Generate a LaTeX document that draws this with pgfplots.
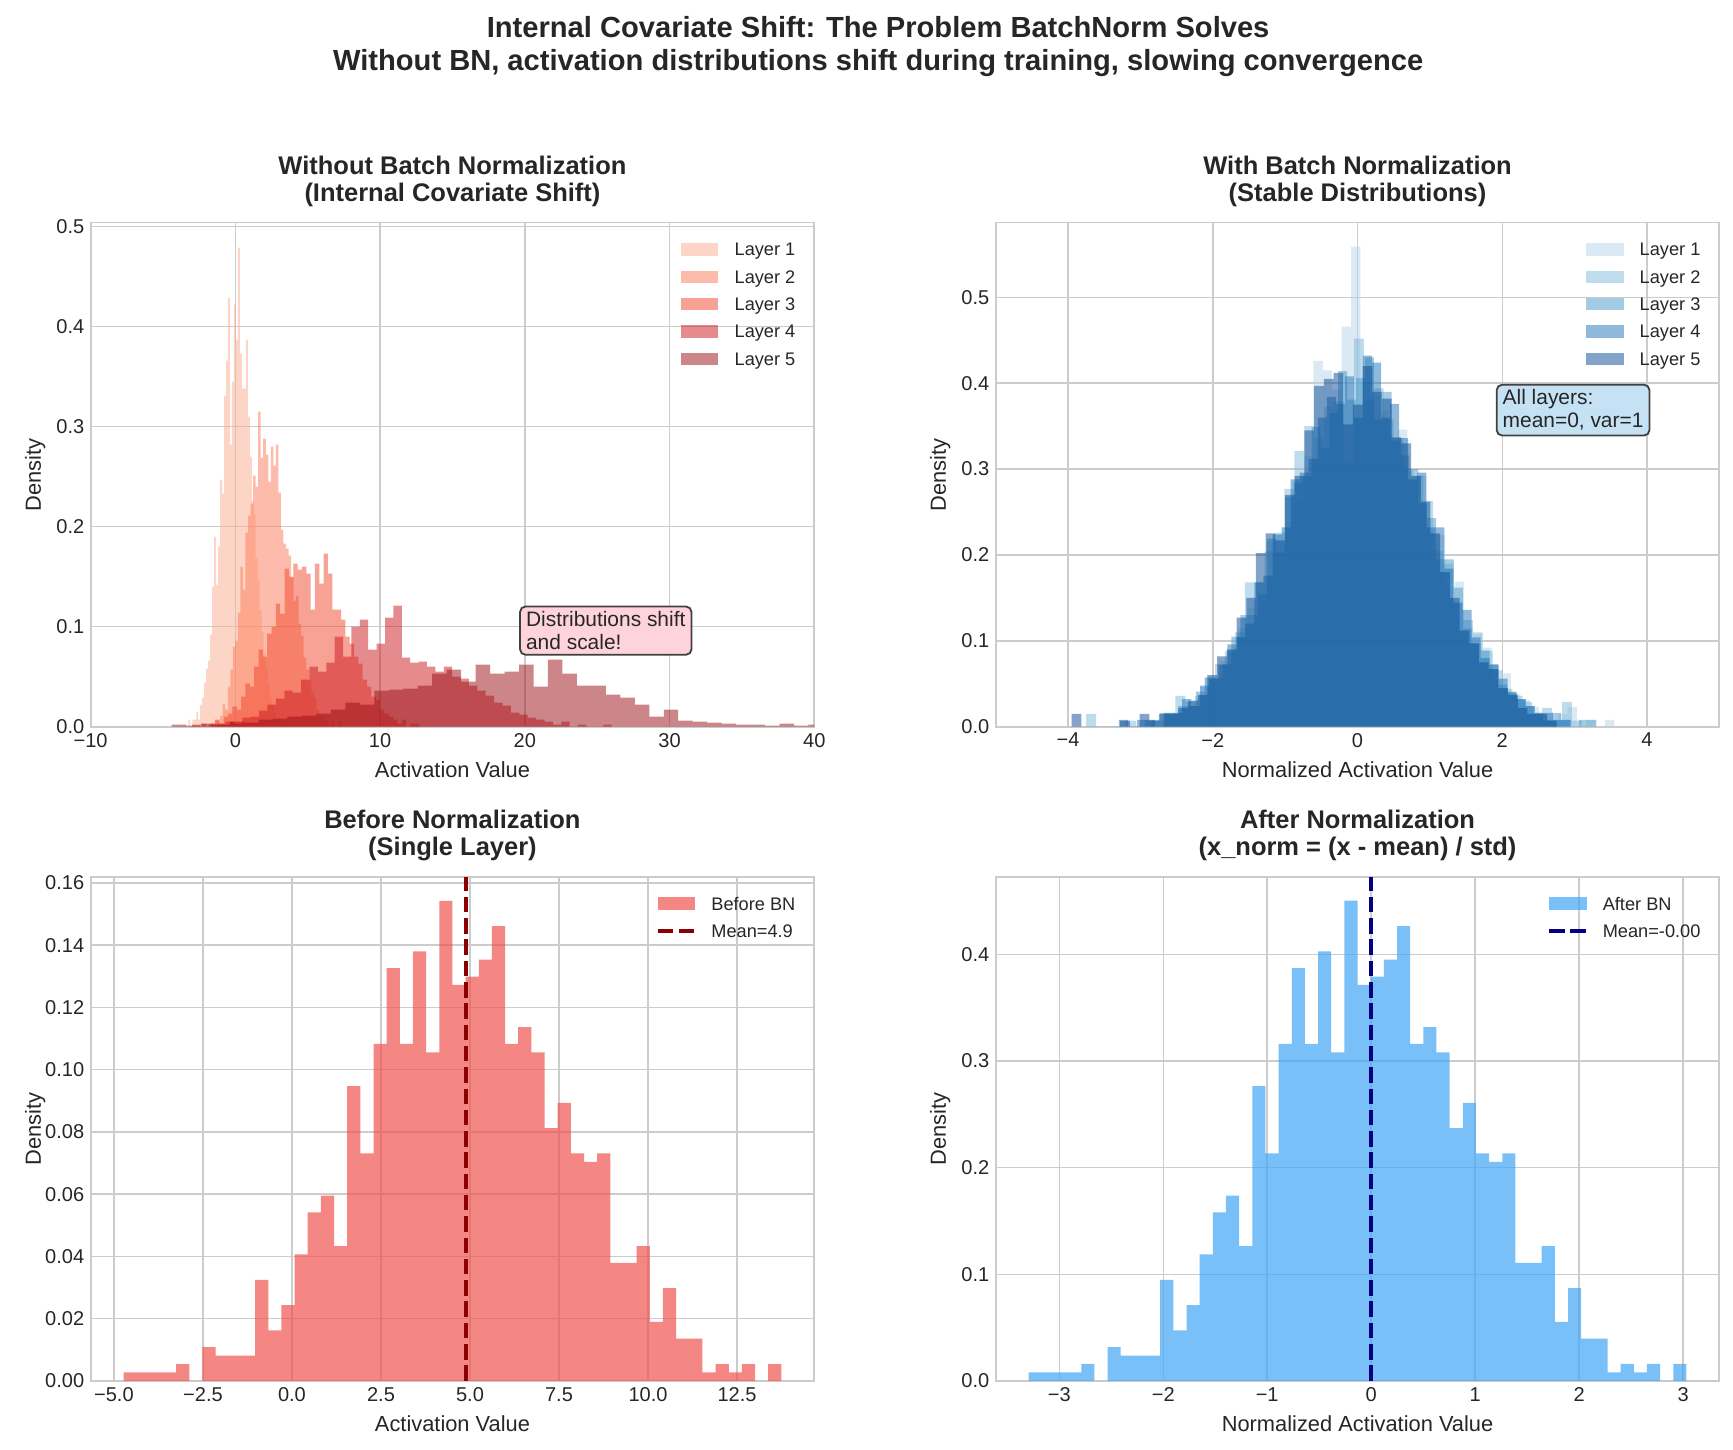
\documentclass[border=0pt]{standalone}
\usepackage{fontspec}
\setmainfont{Liberation Sans}
\usepackage{pgfplots}
\pgfplotsset{compat=1.18}
\definecolor{txt}{HTML}{262626}
\definecolor{gridc}{HTML}{CCCCCC}
\definecolor{r1}{HTML}{FCAB8E}
\definecolor{r2}{HTML}{FB7A57}
\definecolor{r3}{HTML}{F1442C}
\definecolor{r4}{HTML}{CB181D}
\definecolor{r5}{HTML}{990C13}
\definecolor{b1}{HTML}{B6D4E9}
\definecolor{b2}{HTML}{7FB9DA}
\definecolor{b3}{HTML}{4A98C9}
\definecolor{b4}{HTML}{2171B5}
\definecolor{b5}{HTML}{084A92}
\definecolor{beforec}{HTML}{EF5350}
\definecolor{afterc}{HTML}{42A5F5}
\definecolor{meanred}{HTML}{8B0000}
\definecolor{meanblue}{HTML}{000080}
\definecolor{pinkbox}{HTML}{FFD3DB}
\definecolor{bluebox}{HTML}{C5E2F5}
\definecolor{boxedge}{HTML}{404040}
\pgfplotsset{
  myaxis/.style={
    scale only axis, width=397.6pt, height=277pt, anchor=south west,
    axis line style={gridc, line width=1pt},
    grid=major, major grid style={gridc, line width=0.8pt},
    major tick length=0pt, minor tick length=0pt,
    tick style={draw=none},
    ticklabel style={font=\fontsize{11}{13}\selectfont, text=txt},
    /pgf/number format/assume math mode=true,
    label style={font=\fontsize{12}{14}\selectfont, text=txt},
    title style={font=\bfseries\fontsize{14}{15}\selectfont, text=txt, align=center, yshift=-1pt},
    legend style={draw=none, fill=none, font=\fontsize{10}{12}\selectfont, text=txt,
      at={(1,1)}, anchor=north east, xshift=-9.7pt, yshift=-10.1pt, row sep=4pt, inner sep=0pt,
      nodes={inner sep=0.5pt, text height=7.5pt, text depth=2.5pt}},
    legend cell align=left,
    x label style={at={(axis description cs:0.5,-0.0859)}, anchor=center},
    y label style={at={(axis description cs:-0.0767,0.5)}, anchor=center},
  },
  hist/.style={const plot mark left, draw=none, fill=#1, fill opacity=0.5, mark=none,
    legend image code/.code={\fill[##1, draw=none] (0pt,-2.4pt) rectangle (20.6pt,4.4pt); \path[draw=none, fill=none] (0pt,0pt) -- (29pt,0pt);}},
  single/.style={const plot mark left, draw=none, fill=#1, fill opacity=0.7, mark=none,
    legend image code/.code={\fill[##1, draw=none] (0pt,-2.4pt) rectangle (20.6pt,4.4pt); \path[draw=none, fill=none] (0pt,0pt) -- (29pt,0pt);}},
  meanline/.style={#1, line width=2pt, dash pattern=on 8.5pt off 3.2pt, mark=none,
    legend image code/.code={\draw[##1] (0pt,1pt) -- (20.6pt,1pt); \path[draw=none, fill=none] (0pt,0pt) -- (29pt,0pt);}},
}
\begin{document}
\begin{tikzpicture}
\useasboundingbox (0pt,0pt) rectangle (952.2pt,796.2pt);
\node[anchor=base, font=\bfseries\fontsize{16}{19}\selectfont, text=txt] at (482.5pt,775.8pt) {Internal Covariate Shift: The Problem BatchNorm Solves};
\node[anchor=base, font=\bfseries\fontsize{16}{19}\selectfont, text=txt] at (482.5pt,757.4pt) {Without BN, activation distributions shift during training, slowing convergence};

% ---------------- Top left ----------------
\begin{axis}[myaxis, at={(49.8pt,396.9pt)},
  xmin=-10, xmax=40, ymin=0, ymax=0.504,
  xtick={-10,0,10,20,30,40}, xticklabels={−10,0,10,20,30,40},
  ytick={0,0.1,0.2,0.3,0.4,0.5}, yticklabels={0.0,0.1,0.2,0.3,0.4,0.5},
  title={Without Batch Normalization\\(Internal Covariate Shift)},
  xlabel={Activation Value}, ylabel={Density}]
\addplot[hist=r1] coordinates {(-3.250,0.007) (-3.113,0) (-2.976,0.007) (-2.839,0.007) (-2.702,0.015) (-2.565,0.007) (-2.428,0.022) (-2.291,0.029) (-2.154,0.044) (-2.017,0.058) (-1.880,0.066) (-1.743,0.092) (-1.606,0.140) (-1.469,0.190) (-1.332,0.142) (-1.195,0.180) (-1.058,0.247) (-0.921,0.233) (-0.784,0.331) (-0.647,0.366) (-0.510,0.429) (-0.373,0.282) (-0.236,0.345) (-0.099,0.422) (0.038,0.387) (0.175,0.479) (0.312,0.373) (0.449,0.338) (0.586,0.338) (0.723,0.387) (0.860,0.310) (0.997,0.270) (1.134,0.226) (1.271,0.212) (1.408,0.168) (1.545,0.146) (1.682,0.117) (1.819,0.095) (1.956,0.073) (2.093,0.058) (2.230,0.044) (2.367,0.029) (2.504,0.022) (2.641,0.015) (2.778,0.007) (2.915,0.007) (3.052,0) (3.189,0.007) (3.326,0) (3.463,0.007) (3.600,0.007)} \closedcycle;
\addlegendentry{Layer 1}
\addplot[hist=r2] coordinates {(-1.400,0.006) (-1.225,0.006) (-1.050,0.011) (-0.875,0.023) (-0.700,0.017) (-0.525,0.040) (-0.350,0.057) (-0.175,0.080) (0.000,0.086) (0.175,0.114) (0.350,0.160) (0.525,0.137) (0.700,0.194) (0.875,0.211) (1.050,0.223) (1.225,0.251) (1.400,0.240) (1.575,0.315) (1.750,0.269) (1.925,0.288) (2.100,0.272) (2.275,0.245) (2.450,0.280) (2.625,0.261) (2.800,0.282) (2.975,0.234) (3.150,0.197) (3.325,0.183) (3.500,0.178) (3.675,0.171) (3.850,0.149) (4.025,0.126) (4.200,0.131) (4.375,0.103) (4.550,0.091) (4.725,0.069) (4.900,0.057) (5.075,0.046) (5.250,0.034) (5.425,0.029) (5.600,0.017) (5.775,0.011) (5.950,0.011) (6.125,0.006) (6.300,0.006) (6.475,0) (6.650,0.006) (6.825,0) (7.000,0) (7.175,0.006) (7.350,0.006)} \closedcycle;
\addlegendentry{Layer 2}
\addplot[hist=r3] coordinates {(-2.3,0.003) (-2.0,0) (-1.7,0.003) (-1.4,0.007) (-1.1,0.003) (-0.8,0.010) (-0.5,0.013) (-0.2,0.020) (0.1,0.017) (0.4,0.030) (0.7,0.043) (1.0,0.040) (1.3,0.060) (1.6,0.077) (1.9,0.070) (2.2,0.093) (2.5,0.100) (2.8,0.123) (3.1,0.113) (3.4,0.158) (3.7,0.150) (4.0,0.163) (4.3,0.157) (4.6,0.160) (4.9,0.153) (5.2,0.117) (5.5,0.163) (5.8,0.143) (6.1,0.173) (6.4,0.153) (6.7,0.117) (7.0,0.117) (7.3,0.107) (7.6,0.090) (7.9,0.083) (8.2,0.070) (8.5,0.063) (8.8,0.047) (9.1,0.040) (9.4,0.030) (9.7,0.027) (10.0,0.017) (10.3,0.013) (10.6,0.010) (10.9,0.007) (11.2,0.003) (11.5,0.007) (11.8,0) (12.1,0.003) (12.4,0.003) (12.7,0.003)} \closedcycle;
\addlegendentry{Layer 3}
\addplot[hist=r4] coordinates {(-3.00,0.002) (-2.42,0) (-1.84,0.002) (-1.26,0.003) (-0.68,0.005) (-0.10,0.003) (0.48,0.009) (1.06,0.010) (1.64,0.016) (2.22,0.022) (2.80,0.028) (3.38,0.036) (3.96,0.034) (4.54,0.047) (5.12,0.060) (5.70,0.055) (6.28,0.064) (6.86,0.090) (7.44,0.070) (8.02,0.100) (8.60,0.107) (9.18,0.077) (9.76,0.083) (10.34,0.109) (10.92,0.121) (11.50,0.069) (12.08,0.064) (12.66,0.065) (13.24,0.060) (13.82,0.055) (14.40,0.060) (14.98,0.050) (15.56,0.048) (16.14,0.041) (16.72,0.036) (17.30,0.031) (17.88,0.024) (18.46,0.021) (19.04,0.014) (19.62,0.012) (20.20,0.009) (20.78,0.007) (21.36,0.005) (21.94,0.002) (22.52,0.005) (23.10,0) (23.68,0.002) (24.26,0) (24.84,0) (25.42,0.002) (26.00,0.002)} \closedcycle;
\addlegendentry{Layer 4}
\addplot[hist=r5] coordinates {(-4.4,0.002) (-3.4,0.001) (-2.4,0.003) (-1.4,0.002) (-0.4,0.005) (0.6,0.004) (1.6,0.007) (2.6,0.008) (3.6,0.010) (4.6,0.011) (5.6,0.013) (6.6,0.017) (7.6,0.024) (8.6,0.022) (9.6,0.036) (10.6,0.037) (11.6,0.038) (12.6,0.041) (13.6,0.053) (14.6,0.057) (15.6,0.045) (16.6,0.062) (17.6,0.053) (18.6,0.055) (19.6,0.062) (20.6,0.040) (21.6,0.067) (22.6,0.053) (23.6,0.041) (24.6,0.041) (25.6,0.032) (26.6,0.029) (27.6,0.022) (28.6,0.010) (29.6,0.017) (30.6,0.006) (31.6,0.005) (32.6,0.004) (33.6,0.003) (34.6,0.002) (35.6,0.002) (36.6,0.001) (37.6,0.003) (38.6,0.001) (39.6,0.002) (40.6,0) (41.6,0.001) (42.6,0) (43.6,0) (44.6,0.001) (45.6,0.001)} \closedcycle;
\addlegendentry{Layer 5}
\node[anchor=south west, fill=pinkbox, draw=boxedge, line width=1pt, rounded corners=3pt, inner xsep=3.3pt, inner ysep=2.8pt, align=left, font=\fontsize{11.5}{12.5}\selectfont, text=txt] at (axis cs:19.61,0.071) {Distributions shift\\and scale!};
\end{axis}

% ---------------- Top right ----------------
\begin{axis}[myaxis, at={(547.1pt,396.9pt)},
  xmin=-5, xmax=5, ymin=0, ymax=0.587,
  xtick={-4,-2,0,2,4}, xticklabels={−4,−2,0,2,4},
  ytick={0,0.1,0.2,0.3,0.4,0.5}, yticklabels={0.0,0.1,0.2,0.3,0.4,0.5},
  title={With Batch Normalization\\(Stable Distributions)},
  xlabel={Normalized Activation Value}, ylabel={Density}]
\addplot[hist=b1] coordinates {(-2.95,0.008) (-2.82,0) (-2.69,0.015) (-2.56,0.015) (-2.43,0.023) (-2.30,0.031) (-2.17,0.046) (-2.04,0.054) (-1.91,0.077) (-1.78,0.085) (-1.65,0.115) (-1.52,0.138) (-1.39,0.146) (-1.26,0.215) (-1.13,0.223) (-1.00,0.238) (-0.87,0.262) (-0.74,0.315) (-0.61,0.426) (-0.48,0.415) (-0.35,0.392) (-0.22,0.466) (-0.09,0.559) (0.04,0.400) (0.17,0.385) (0.30,0.369) (0.43,0.331) (0.56,0.346) (0.69,0.285) (0.82,0.292) (0.95,0.231) (1.08,0.223) (1.21,0.162) (1.34,0.169) (1.47,0.115) (1.60,0.108) (1.73,0.092) (1.86,0.054) (1.99,0.062) (2.12,0.038) (2.25,0.031) (2.38,0.023) (2.51,0.015) (2.64,0.008) (2.77,0.015) (2.90,0.023) (3.03,0) (3.16,0.008) (3.29,0) (3.42,0.008) (3.55,0.008)} \closedcycle;
\addlegendentry{Layer 1}
\addplot[hist=b2] coordinates {(-3.750,0.015) (-3.613,0) (-3.476,0) (-3.339,0) (-3.202,0.007) (-3.065,0) (-2.928,0.007) (-2.791,0.007) (-2.654,0.015) (-2.517,0.036) (-2.380,0.029) (-2.243,0.036) (-2.106,0.058) (-1.969,0.073) (-1.832,0.088) (-1.695,0.110) (-1.558,0.168) (-1.421,0.168) (-1.284,0.204) (-1.147,0.226) (-1.010,0.277) (-0.873,0.321) (-0.736,0.350) (-0.599,0.336) (-0.462,0.372) (-0.325,0.379) (-0.188,0.307) (-0.051,0.452) (0.086,0.380) (0.223,0.394) (0.360,0.358) (0.497,0.336) (0.634,0.299) (0.771,0.292) (0.908,0.263) (1.045,0.205) (1.182,0.190) (1.319,0.146) (1.456,0.124) (1.593,0.110) (1.730,0.088) (1.867,0.066) (2.004,0.044) (2.141,0.036) (2.278,0.029) (2.415,0.015) (2.552,0.022) (2.689,0.007) (2.826,0.029) (2.963,0.007) (3.100,0.007)} \closedcycle;
\addlegendentry{Layer 2}
\addplot[hist=b3] coordinates {(-2.850,0.008) (-2.727,0.016) (-2.604,0.016) (-2.481,0.024) (-2.358,0.024) (-2.235,0.041) (-2.112,0.057) (-1.989,0.057) (-1.866,0.073) (-1.743,0.105) (-1.620,0.130) (-1.497,0.130) (-1.374,0.154) (-1.251,0.219) (-1.128,0.203) (-1.005,0.268) (-0.882,0.284) (-0.759,0.292) (-0.636,0.349) (-0.513,0.325) (-0.390,0.365) (-0.267,0.414) (-0.144,0.381) (-0.021,0.406) (0.102,0.430) (0.225,0.357) (0.348,0.390) (0.471,0.333) (0.594,0.316) (0.717,0.300) (0.840,0.260) (0.963,0.243) (1.086,0.195) (1.209,0.195) (1.332,0.162) (1.455,0.114) (1.578,0.097) (1.701,0.089) (1.824,0.073) (1.947,0.049) (2.070,0.041) (2.193,0.032) (2.316,0.024) (2.439,0.016) (2.562,0.008) (2.685,0.016) (2.808,0.008) (2.931,0) (3.054,0.008) (3.177,0.008) (3.300,0.008)} \closedcycle;
\addlegendentry{Layer 3}
\addplot[hist=b4] coordinates {(-3.300,0.008) (-3.175,0) (-3.050,0.008) (-2.925,0.008) (-2.800,0) (-2.675,0.016) (-2.550,0.016) (-2.425,0.032) (-2.300,0.024) (-2.175,0.048) (-2.050,0.056) (-1.925,0.072) (-1.800,0.096) (-1.675,0.104) (-1.550,0.120) (-1.425,0.168) (-1.300,0.176) (-1.175,0.224) (-1.050,0.232) (-0.925,0.288) (-0.800,0.296) (-0.675,0.312) (-0.550,0.360) (-0.425,0.384) (-0.300,0.376) (-0.175,0.408) (-0.050,0.360) (0.075,0.432) (0.200,0.424) (0.325,0.360) (0.450,0.376) (0.575,0.336) (0.700,0.288) (0.825,0.296) (0.950,0.232) (1.075,0.232) (1.200,0.184) (1.325,0.144) (1.450,0.136) (1.575,0.104) (1.700,0.080) (1.825,0.072) (1.950,0.056) (2.075,0.040) (2.200,0.032) (2.325,0.024) (2.450,0.016) (2.575,0.016) (2.700,0.008) (2.825,0.008) (2.950,0.008)} \closedcycle;
\addlegendentry{Layer 4}
\addplot[hist=b5] coordinates {(-3.950,0.015) (-3.816,0) (-3.682,0) (-3.548,0) (-3.414,0) (-3.280,0.007) (-3.146,0) (-3.012,0.015) (-2.878,0.007) (-2.744,0.015) (-2.610,0.015) (-2.476,0.022) (-2.342,0.030) (-2.208,0.037) (-2.074,0.060) (-1.940,0.082) (-1.806,0.090) (-1.672,0.127) (-1.538,0.150) (-1.404,0.202) (-1.270,0.225) (-1.136,0.217) (-1.002,0.270) (-0.868,0.292) (-0.734,0.345) (-0.600,0.397) (-0.466,0.405) (-0.332,0.412) (-0.198,0.352) (-0.064,0.375) (0.070,0.420) (0.204,0.390) (0.338,0.382) (0.472,0.337) (0.606,0.330) (0.740,0.292) (0.874,0.262) (1.008,0.225) (1.142,0.180) (1.276,0.150) (1.410,0.112) (1.544,0.097) (1.678,0.075) (1.812,0.067) (1.946,0.045) (2.080,0.037) (2.214,0.022) (2.348,0.015) (2.482,0.015) (2.616,0.007) (2.750,0.007)} \closedcycle;
\addlegendentry{Layer 5}
\node[anchor=south west, fill=bluebox, draw=boxedge, line width=1pt, rounded corners=3pt, inner xsep=3.3pt, inner ysep=2.8pt, align=left, font=\fontsize{11.5}{12.5}\selectfont, text=txt] at (axis cs:1.91,0.338) {All layers:\\mean=0, var=1};
\end{axis}

% ---------------- Bottom left ----------------
\begin{axis}[myaxis, at={(49.8pt,37.5pt)},
  xmin=-5.654, xmax=14.669, ymin=0, ymax=0.162,
  xtick={-5,-2.5,0,2.5,5,7.5,10,12.5}, xticklabels={−5.0,−2.5,0.0,2.5,5.0,7.5,10.0,12.5},
  ytick={0,0.02,0.04,0.06,0.08,0.10,0.12,0.14,0.16}, yticklabels={0.00,0.02,0.04,0.06,0.08,0.10,0.12,0.14,0.16},
  title={Before Normalization\\(Single Layer)},
  xlabel={Activation Value}, ylabel={Density}]
\addplot[single=beforec] coordinates {(-4.730,0.00271) (-4.3605,0.00271) (-3.991,0.00271) (-3.6215,0.00271) (-3.252,0.00541) (-2.8825,0) (-2.513,0.01083) (-2.1435,0.00812) (-1.774,0.00812) (-1.4045,0.00812) (-1.035,0.03248) (-0.6655,0.01624) (-0.296,0.02436) (0.0735,0.04060) (0.443,0.05413) (0.8125,0.05954) (1.182,0.04330) (1.5515,0.09472) (1.921,0.07307) (2.2905,0.10826) (2.660,0.13261) (3.0295,0.10826) (3.399,0.13803) (3.7685,0.10555) (4.138,0.15427) (4.5075,0.12720) (4.877,0.12991) (5.2465,0.13532) (5.616,0.14615) (5.9855,0.10826) (6.355,0.11367) (6.7245,0.10555) (7.094,0.08119) (7.4635,0.08931) (7.833,0.07307) (8.2025,0.07037) (8.572,0.07307) (8.9415,0.03789) (9.311,0.03789) (9.6805,0.04330) (10.050,0.01894) (10.4195,0.02977) (10.789,0.01353) (11.1585,0.01353) (11.528,0.00271) (11.8975,0.00541) (12.267,0.00271) (12.6365,0.00541) (13.006,0) (13.3755,0.00541) (13.745,0.00541)} \closedcycle;
\addlegendentry{Before BN}
\addplot[meanline=meanred] coordinates {(4.89,0) (4.89,0.162)};
\addlegendentry{Mean=4.9}
\end{axis}

% ---------------- Bottom right ----------------
\begin{axis}[myaxis, at={(547.1pt,37.5pt)},
  xmin=-3.611, xmax=3.349, ymin=0, ymax=0.473,
  xtick={-3,-2,-1,0,1,2,3}, xticklabels={−3,−2,−1,0,1,2,3},
  ytick={0,0.1,0.2,0.3,0.4}, yticklabels={0.0,0.1,0.2,0.3,0.4},
  title={After Normalization\\(x\_norm = (x - mean) / std)},
  xlabel={Normalized Activation Value}, ylabel={Density}]
\addplot[single=afterc] coordinates {(-3.2945,0.00790) (-3.1680,0.00790) (-3.0414,0.00790) (-2.9149,0.00790) (-2.7883,0.01581) (-2.6618,0) (-2.5353,0.03161) (-2.4087,0.02371) (-2.2822,0.02371) (-2.1556,0.02371) (-2.0291,0.09483) (-1.9026,0.04742) (-1.7760,0.07112) (-1.6495,0.11854) (-1.5229,0.15805) (-1.3964,0.17386) (-1.2699,0.12644) (-1.1433,0.27659) (-1.0168,0.21337) (-0.8902,0.31610) (-0.7637,0.38723) (-0.6372,0.31610) (-0.5106,0.40303) (-0.3841,0.30820) (-0.2575,0.45045) (-0.1310,0.37142) (-0.0045,0.37932) (0.1221,0.39513) (0.2486,0.42674) (0.3752,0.31610) (0.5017,0.33191) (0.6282,0.30820) (0.7548,0.23708) (0.8813,0.26079) (1.0079,0.21337) (1.1344,0.20547) (1.2609,0.21337) (1.3875,0.11064) (1.5140,0.11064) (1.6406,0.12644) (1.7671,0.05532) (1.8936,0.08693) (2.0202,0.03951) (2.1467,0.03951) (2.2733,0.00790) (2.3998,0.01581) (2.5263,0.00790) (2.6529,0.01581) (2.7794,0) (2.9060,0.01581) (3.0325,0.01581)} \closedcycle;
\addlegendentry{After BN}
\addplot[meanline=meanblue] coordinates {(0,0) (0,0.473)};
\addlegendentry{Mean=-0.00}
\end{axis}
\end{tikzpicture}
\end{document}
